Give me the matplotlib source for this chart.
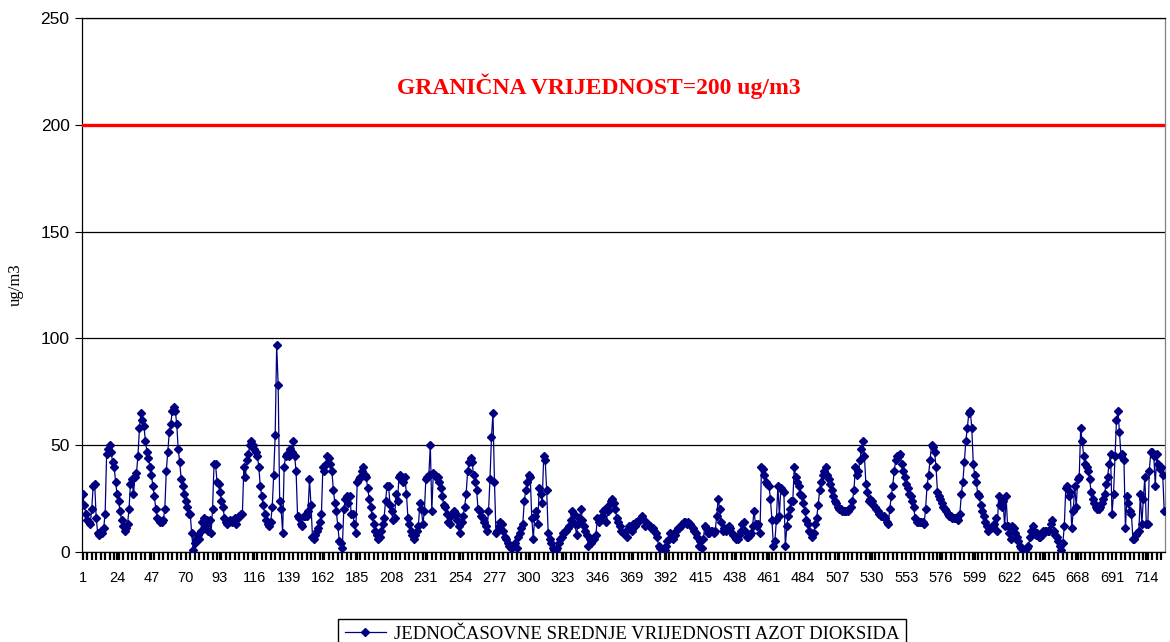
import matplotlib
matplotlib.use('Agg')
import matplotlib.pyplot as plt
from matplotlib.ticker import MultipleLocator

# hourly NO2 means in chunks
no2_a = [27, 22, 18, 15, 14, 13, 20, 31, 32, 16, 9, 8, 10, 9, 11, 18, 46, 48, 50, 47,
         42, 40, 33, 27, 24, 19, 15, 12, 10, 11, 13, 20, 32, 34, 27, 35, 37, 45, 58, 65,
         62, 59, 52, 47, 44, 40, 36, 31, 26, 20, 16, 15, 14, 14, 15, 20, 38, 47, 56, 60,
         66, 68, 66, 60, 48, 42, 34, 31, 27, 24, 21, 18, 18, 9, 1]
no2_b = [4, 6, 8, 6, 10, 14, 16, 12, 15, 10, 15, 9, 20, 41, 41, 33, 32, 28, 24, 21,
         16, 14, 13, 14, 15, 14, 15, 16, 13, 16, 17, 18, 18, 40, 35, 43, 46, 50, 52, 50,
         48, 47, 45, 40, 31, 26, 22, 18, 15, 13, 12, 14, 21, 36, 55, 97, 78, 24, 20, 9,
         40, 45, 46, 45, 48, 47, 52, 45, 38, 17, 16]
no2_c = [13, 12, 17, 17, 17, 19, 34, 22, 7, 6, 8, 10, 11, 14, 18, 40, 38, 41, 45, 44,
         41, 38, 29, 23, 19, 12, 5, 4, 2, 20, 25, 26, 23, 26, 18, 18, 13, 9, 33, 34,
         35, 38, 40, 36, 35, 30, 25, 21, 17, 13, 10, 8, 6, 7, 10, 13, 16, 24, 31, 31,
         22, 19, 15, 16, 27, 24, 35, 36, 35, 33]
no2_d = [35, 27, 16, 13, 10, 8, 6, 8, 10, 12, 23, 20, 13, 19, 34, 35, 36, 50, 19, 37,
         36, 35, 35, 33, 30, 26, 22, 21, 18, 14, 13, 17, 18, 19, 18, 15, 12, 9, 14, 17,
         21, 27, 38, 42, 44, 42, 36, 33, 29, 20, 19, 17, 16, 14, 12, 10, 19, 34, 54, 65,
         33, 9, 10, 12, 14, 13, 10, 7, 6, 4, 3, 2, 2, 3, 4, 2, 7, 9, 11, 13, 24]
no2_e = [29, 33, 36, 35, 16, 6, 17, 19, 13, 30, 27, 23, 45, 43, 29, 9, 6, 4, 2, 1,
         1, 2, 4, 6, 7, 9, 10, 10, 11, 12, 15, 19, 18, 13, 8, 13, 16, 20, 15, 12,
         10, 8, 3, 6, 4, 6, 6, 8, 16, 14, 15, 17, 19, 20, 14, 19, 22, 24, 25, 23,
         20, 16, 14, 12, 10, 9, 9, 10, 7, 12, 11, 10, 13]
no2_f = [12, 14, 14, 15, 16, 17, 15, 12, 13, 13, 12, 11, 11, 10, 9, 7, 3, 2, 1, 0,
         1, 3, 5, 6, 9, 7, 6, 8, 10, 11, 11, 12, 13, 14, 14, 13, 14, 13, 12, 11,
         10, 9, 7, 3, 5, 2, 6, 12, 11, 9, 9, 10, 10, 9, 10, 17, 25, 20, 14, 10,
         11, 10, 11, 12, 11, 9, 8, 7, 6, 6, 8, 10, 13, 14]
no2_g = [10, 7, 7, 8, 9, 12, 19, 13, 12, 13, 9, 40, 39, 36, 33, 32, 31, 25, 15, 3,
         5, 15, 31, 17, 30, 29, 28, 3, 12, 17, 20, 24, 24, 40, 35, 33, 31, 27, 26, 23,
         19, 15, 13, 10, 9, 7, 9, 13, 16, 22, 29, 33, 36, 38, 40, 36, 34, 32, 29, 26,
         24, 23, 21, 20, 20, 19, 19, 19, 19, 19, 20, 21, 24, 29]
no2_h = [40, 36, 38, 43, 48, 52, 45, 32, 28, 24, 25, 24, 22, 21, 20, 19, 18, 17, 17, 17,
         16, 14, 13, 20, 26, 31, 38, 43, 45, 45, 46, 41, 38, 35, 32, 30, 27, 26, 24, 21,
         16, 14, 14, 14, 14, 14, 13, 20, 31, 36, 43, 50, 49, 47, 40, 28, 26, 25, 23, 21,
         20, 19, 18, 17, 17, 16, 16, 16, 16, 15, 18, 27, 33]
no2_i = [42, 52, 58, 65, 66, 58, 41, 36, 33, 27, 26, 22, 19, 17, 14, 12, 10, 11, 11, 12,
         13, 16, 10, 26, 22, 21, 24, 12, 26, 12, 9, 6, 12, 11, 9, 7, 5, 3, 2, 1,
         0, 1, 2, 3, 7, 10, 12, 10, 8, 9, 7, 7, 8, 10, 10, 10, 10, 10, 13, 15,
         10, 8, 7, 5, 3, 1, 4]
no2_j = [12, 30, 31, 26, 28, 11, 19, 31, 21, 34, 35, 58, 52, 45, 41, 40, 38, 34, 28, 25,
         23, 21, 20, 20, 21, 23, 25, 27, 32, 35, 41, 46, 18, 27, 45, 62, 66, 56, 45, 46,
         43, 11, 26, 23, 19, 18, 6, 6, 8, 9, 10, 27, 13, 25, 35, 13, 13, 38, 47, 47,
         45, 31, 46, 41, 39, 40, 36, 19]

no2 = no2_a + no2_b + no2_c + no2_d + no2_e + no2_f + no2_g + no2_h + no2_i + no2_j
hours = list(range(1, len(no2) + 1))
x_labels = list(range(1, 715, 23))
limit = 200

fig = plt.figure(figsize=(11.7, 6.42), dpi=100)
ax = fig.add_axes([0.0701, 0.1402, 0.9256, 0.8318])

ax.set_ylim(0, 250)
ax.set_xlim(0.5, len(no2) + 0.5)
ax.yaxis.set_major_locator(MultipleLocator(50))
ax.grid(True, axis='y', color='black', linewidth=0.9)
ax.set_axisbelow(True)

ax.axhline(limit, color='#ff0000', linewidth=2.4, zorder=3)
ax.text(len(no2) * 0.478, 218, 'GRANIČNA VRIJEDNOST=200 ug/m3', color='#ff0000',
        fontsize=17, fontweight='bold', family='Liberation Serif',
        ha='center', va='center')

ax.plot(hours, no2, color='#000080', linewidth=0.9, marker='D', markersize=4.2,
        label='JEDNOČASOVNE SREDNJE VRIJEDNOSTI AZOT DIOKSIDA', zorder=4)

ax.set_xticks(x_labels)
ax.set_xticklabels([str(v) for v in x_labels], family='Liberation Sans', fontsize=10.5)
ax.set_xticks(range(1, len(no2) + 1, 3), minor=True)
ax.tick_params(axis='x', which='both', direction='out', length=6, width=1.6, pad=8)
ax.tick_params(axis='y', direction='out', length=5, width=0.8, pad=4)
for t in ax.get_yticklabels():
    t.set_family('Liberation Sans')
    t.set_fontsize(12.5)

for s in ax.spines.values():
    s.set_color('black')
    s.set_linewidth(0.9)
ax.spines['right'].set_color('#808080')

ax.set_ylabel('ug/m3', family='Liberation Serif', fontsize=12, labelpad=12)

fig.legend(loc='upper center', bbox_to_anchor=(0.5316, 0.05),
           prop={'family': 'Liberation Serif', 'size': 13.5},
           frameon=True, fancybox=False, edgecolor='black', framealpha=1,
           handlelength=2.2, handletextpad=0.4, borderpad=0.35)

fig.savefig('out.png', dpi=100)
